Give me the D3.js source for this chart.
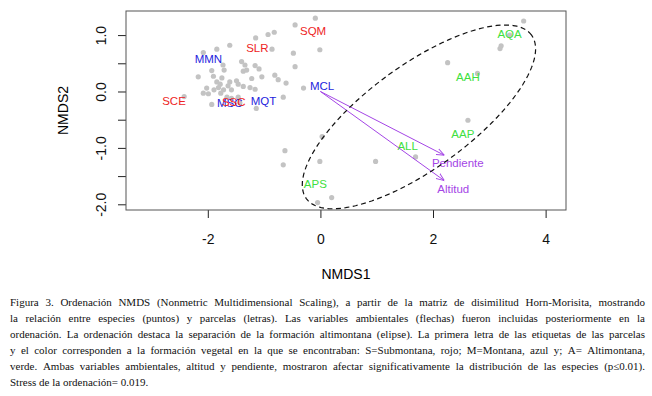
<!DOCTYPE html>
<html>
<head>
<meta charset="utf-8">
<script src="https://cdn.jsdelivr.net/npm/d3@7"></script>
<style>
  body { margin: 0; background: #fff; }
  svg { display: block; }
  .axis text { font-family: "Liberation Sans", Arial, sans-serif; font-size: 14px; fill: #111; }
  .axis line { stroke: #222; }
</style>
</head>
<body>
<div id="fig"></div>
<script>
// species scores (grey points), NMDS1 / NMDS2
const speciesScores = [
  [-0.09,1.30],[-0.45,1.18],[-0.82,1.05],[-0.93,1.01],[-1.15,0.95],[-1.61,0.82],[-1.84,0.75],[-2.08,0.69],
  [-0.86,0.75],[-0.48,0.68],[-0.01,0.74],[-0.45,0.44],[-1.73,0.47],[-1.40,0.53],[-1.34,0.47],[-1.16,0.46],
  [-1.09,0.40],[-1.37,0.36],[-1.93,0.37],[-1.71,0.38],[-1.31,0.38],[-2.17,0.26],[-1.90,0.27],[-1.22,0.23],
  [-1.04,0.26],[-0.81,0.29],[-0.75,0.21],[-0.61,0.15],[-1.84,0.17],[-1.78,0.13],[-1.61,0.17],[-1.49,0.19],
  [-1.46,0.13],[-1.37,0.09],[-1.25,0.07],[-1.16,0.04],[-1.81,0.07],[-1.72,0.03],[-1.58,0.03],[-2.02,0.06],
  [-2.08,-0.03],[-1.99,-0.04],[-1.77,-0.03],[-1.66,-0.10],[-1.58,-0.12],[-1.46,-0.10],[-0.30,0.06],[-0.66,-0.10],
  [-1.93,-0.23],[-1.43,-0.20],[-1.14,-0.30],[-2.42,-0.09],[-1.75,0.24],[-1.89,0.03],[-1.64,0.10],
  [3.61,1.25],[3.36,1.00],[3.21,0.81],[3.19,0.76],[2.26,0.51],[2.79,0.32],[2.62,-0.51],[0.03,-0.80],
  [-0.01,-1.24],[0.98,-1.24],[1.69,-1.16],[-0.05,-1.97],[0.20,-1.88],[-0.63,-1.05],[-0.66,-1.30]
]

// plots (site labels); first letter = vegetation formation
const siteNames = ['SQM','SLR','MMN','SCE','MSC','SSC','MQT','MCL','AQA','AAH','AAP','ALL','APS']
const siteX     = [-0.13,-1.12,-1.99,-2.60,-1.61,-1.54,-1.01, 0.03, 3.36, 2.62, 2.53, 1.55,-0.09]
const siteY     = [ 1.07, 0.77, 0.57,-0.16,-0.20,-0.19,-0.16, 0.10, 1.02, 0.26,-0.75,-0.97,-1.63]
const formationColor = { S: '#ee2424', M: '#2424dd', A: '#3ee03e' }

// fitted environmental vectors
const envNames  = ['Pendiente','Altitud']
const envX      = [2.20, 2.20]
const envY      = [-1.13, -1.58]
const envLabelX = [2.44, 2.36]
const envLabelY = [-1.27, -1.72]

// altimontane ellipse: centre, semi axes, angle (deg)
const ellCentre = [1.75, -0.45]
const ellAxes   = [2.47, 0.92]
const ellAngle  = 35.9

const xTicks = [-2, 0, 2, 4]
const yTicks = [-2.0, -1.5, -1.0, -0.5, 0.0, 0.5, 1.0]

const captionLines = [
  'Figura 3. Ordenación NMDS (Nonmetric Multidimensional Scaling), a partir de la matriz de disimilitud Horn-Morisita, mostrando',
  'la relación entre especies (puntos) y parcelas (letras). Las variables ambientales (flechas) fueron incluidas posteriormente en la',
  'ordenación. La ordenación destaca la separación de la formación altimontana (elipse). La primera letra de las etiquetas de las parcelas',
  'y el color corresponden a la formación vegetal en la que se encontraban: S=Submontana, rojo; M=Montana, azul y; A= Altimontana,',
  'verde. Ambas variables ambientales, altitud y pendiente, mostraron afectar significativamente la distribución de las especies (p≤0.01).',
  'Stress de la ordenación= 0.019.'
]

const W = 652, H = 396
const box = { l: 126, r: 566, t: 11, b: 210 }

const svg = d3.select('#fig').append('svg').attr('width', W).attr('height', H)

const x = d3.scaleLinear().domain([-3.453, 4.362]).range([box.l, box.r])
const y = d3.scaleLinear().domain([-2.101, 1.427]).range([box.b, box.t])

// axes
const gx = svg.append('g').attr('class', 'axis')
  .attr('transform', `translate(0,${box.b})`)
  .call(d3.axisBottom(x).tickValues(xTicks).tickSize(8).tickSizeOuter(0).tickPadding(20).tickFormat(d => String(d)))
gx.select('.domain').remove()
gx.selectAll('text').attr('dy', 0).attr('y', 34)

const gy = svg.append('g').attr('class', 'axis')
  .attr('transform', `translate(${box.l},0)`)
  .call(d3.axisLeft(y).tickValues(yTicks).tickSize(8).tickSizeOuter(0)
    .tickFormat(d => Math.abs(d % 1) < 1e-9 ? d.toFixed(1) : ''))
gy.select('.domain').remove()
gy.selectAll('text')
  .attr('x', 0).attr('dy', 0)
  .attr('text-anchor', 'middle')
  .attr('transform', 'translate(-20,0) rotate(-90)')

svg.append('rect')
  .attr('x', box.l).attr('y', box.t)
  .attr('width', box.r - box.l).attr('height', box.b - box.t)
  .attr('fill', 'none').attr('stroke', '#555').attr('stroke-width', 1)

svg.append('text').attr('class', 'axis')
  .attr('x', (box.l + box.r) / 2).attr('y', 279)
  .attr('text-anchor', 'middle')
  .style('font-family', '"Liberation Sans", Arial, sans-serif').style('font-size', '14px')
  .text('NMDS1')
svg.append('text')
  .attr('transform', `translate(68,${(box.t + box.b) / 2}) rotate(-90)`)
  .attr('text-anchor', 'middle')
  .style('font-family', '"Liberation Sans", Arial, sans-serif').style('font-size', '14px')
  .text('NMDS2')

// species points
svg.append('g').selectAll('circle')
  .data(speciesScores)
  .enter().append('circle')
  .attr('cx', d => x(d[0]))
  .attr('cy', d => y(d[1]))
  .attr('r', 2.6)
  .attr('fill', '#c3c3c3')

// site labels
svg.append('g').selectAll('text')
  .data(siteNames)
  .enter().append('text')
  .attr('x', (d, i) => x(siteX[i]))
  .attr('y', (d, i) => y(siteY[i]))
  .attr('dy', '0.36em')
  .attr('text-anchor', 'middle')
  .style('font-family', '"Liberation Sans", Arial, sans-serif')
  .style('font-size', '11.5px')
  .attr('fill', d => formationColor[d[0]])
  .text(d => d)

// env arrows
const purple = '#a445e6'
svg.append('defs').append('marker')
  .attr('id', 'head')
  .attr('viewBox', '0 0 10 10')
  .attr('refX', 10).attr('refY', 5)
  .attr('markerWidth', 8).attr('markerHeight', 8)
  .attr('markerUnits', 'userSpaceOnUse')
  .attr('orient', 'auto')
  .append('path')
  .attr('d', 'M0,1 L10,5 L0,9')
  .attr('fill', 'none').attr('stroke', purple).attr('stroke-width', 1.2)

svg.append('g').selectAll('line')
  .data(envNames)
  .enter().append('line')
  .attr('x1', x(0)).attr('y1', y(0))
  .attr('x2', (d, i) => x(envX[i]))
  .attr('y2', (d, i) => y(envY[i]))
  .attr('stroke', purple).attr('stroke-width', 1)
  .attr('marker-end', 'url(#head)')

svg.append('g').selectAll('text')
  .data(envNames)
  .enter().append('text')
  .attr('x', (d, i) => x(envLabelX[i]))
  .attr('y', (d, i) => y(envLabelY[i]))
  .attr('dy', '0.36em')
  .attr('text-anchor', 'middle')
  .style('font-family', '"Liberation Sans", Arial, sans-serif')
  .style('font-size', '11.5px')
  .attr('fill', purple)
  .text(d => d)

// ellipse (drawn in data space)
const rad = ellAngle * Math.PI / 180
const ellPts = d3.range(0, 361, 3).map(a => {
  const t = a * Math.PI / 180
  const u = ellAxes[0] * Math.cos(t), v = ellAxes[1] * Math.sin(t)
  return [ellCentre[0] + u * Math.cos(rad) - v * Math.sin(rad),
          ellCentre[1] + u * Math.sin(rad) + v * Math.cos(rad)]
})
svg.append('path')
  .datum(ellPts)
  .attr('d', d3.line().x(d => x(d[0])).y(d => y(d[1])).curve(d3.curveLinearClosed))
  .attr('fill', 'none').attr('stroke', '#111')
  .attr('stroke-width', 1.2).attr('stroke-dasharray', '5,3.5')

// caption, justified
const cap = svg.append('g')
  .style('font-family', '"Liberation Serif", "Times New Roman", serif')
  .attr('fill', '#111')
const capLeft = 10, capWidth = 635
let fs = 11
const lineNodes = captionLines.map((line, i) => {
  const t = cap.append('text').attr('y', 305.5 + i * 16).style('font-size', fs + 'px')
  line.split(' ').forEach(w => t.append('tspan').text(w))
  return t
})
// find the size where the widest justified line still fits
const natural = lineNodes.map(t => {
  const ws = t.selectAll('tspan').nodes().map(n => n.getComputedTextLength())
  return d3.sum(ws) + (ws.length - 1) * fs * 0.25
})
const widest = d3.max(natural.slice(0, 5))
if (widest > capWidth) fs = fs * capWidth / widest * 0.995
lineNodes.forEach((t, i) => {
  t.style('font-size', fs + 'px')
  const spans = t.selectAll('tspan').nodes()
  const ws = spans.map(n => n.getComputedTextLength())
  const gap = i < 5 ? (capWidth - d3.sum(ws)) / (ws.length - 1) : fs * 0.25
  let cx = capLeft
  spans.forEach((n, j) => {
    d3.select(n).attr('x', cx)
    cx += ws[j] + gap
  })
})
</script>
</body>
</html>
